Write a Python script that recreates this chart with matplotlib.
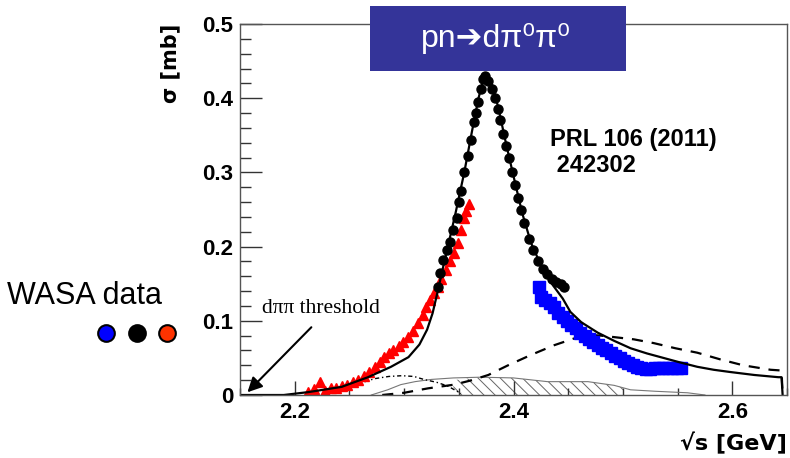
import matplotlib
matplotlib.use("Agg")
import matplotlib.pyplot as plt
from matplotlib.ticker import MultipleLocator, FixedLocator

plt.rcParams['font.family'] = ['Liberation Sans', 'DejaVu Sans']
plt.rcParams['hatch.color'] = '#555555'
plt.rcParams['hatch.linewidth'] = 0.7

# WASA data
black_x = [2.331, 2.333, 2.336, 2.339, 2.342, 2.345, 2.348, 2.350, 2.352, 2.355,
           2.358, 2.361, 2.364, 2.366, 2.368, 2.370, 2.372, 2.374, 2.377, 2.380,
           2.383, 2.386, 2.388, 2.390, 2.393, 2.396, 2.399, 2.401, 2.404, 2.407,
           2.410, 2.414, 2.418, 2.422, 2.427, 2.431, 2.435, 2.439, 2.443, 2.446]
black_y = [0.146, 0.165, 0.182, 0.195, 0.206, 0.222, 0.238, 0.260, 0.275, 0.300,
           0.322, 0.344, 0.368, 0.380, 0.395, 0.412, 0.426, 0.430, 0.423, 0.413,
           0.400, 0.386, 0.370, 0.352, 0.335, 0.320, 0.300, 0.283, 0.266, 0.250,
           0.232, 0.210, 0.195, 0.180, 0.170, 0.163, 0.157, 0.152, 0.149, 0.146]

red_x = [2.212, 2.218, 2.223, 2.228, 2.233, 2.238, 2.243, 2.248, 2.253, 2.258,
         2.263, 2.268, 2.273, 2.278, 2.282, 2.286, 2.290, 2.295, 2.299, 2.304,
         2.308, 2.313, 2.317, 2.320, 2.324, 2.327, 2.331, 2.334, 2.338, 2.342,
         2.346, 2.349, 2.352, 2.355, 2.357, 2.359]
red_y = [0.004, 0.008, 0.018, 0.006, 0.009, 0.010, 0.012, 0.014, 0.017, 0.020,
         0.025, 0.031, 0.038, 0.045, 0.051, 0.056, 0.060, 0.066, 0.071, 0.078,
         0.086, 0.097, 0.108, 0.118, 0.128, 0.137, 0.145, 0.157, 0.168, 0.180,
         0.191, 0.205, 0.222, 0.238, 0.248, 0.258]

blue_x = [2.423, 2.425, 2.429, 2.433, 2.437, 2.441, 2.445, 2.449, 2.453, 2.457,
          2.461, 2.465, 2.469, 2.473, 2.477, 2.481, 2.485, 2.489, 2.493, 2.497,
          2.501, 2.505, 2.509, 2.513, 2.517, 2.521, 2.525, 2.529, 2.533, 2.537,
          2.541, 2.545, 2.549, 2.553]
blue_y = [0.146, 0.132, 0.128, 0.124, 0.118, 0.111, 0.105, 0.100, 0.095, 0.090,
          0.084, 0.079, 0.075, 0.071, 0.067, 0.063, 0.060, 0.056, 0.053, 0.050,
          0.046, 0.043, 0.040, 0.038, 0.036, 0.035, 0.035, 0.036, 0.036, 0.036,
          0.036, 0.036, 0.036, 0.036]

# model curves
fit_x = [2.150, 2.190, 2.213, 2.243, 2.267, 2.288, 2.304, 2.314, 2.321, 2.326,
         2.330, 2.335, 2.340, 2.347, 2.355, 2.362, 2.368, 2.373, 2.376, 2.380,
         2.386, 2.393, 2.400, 2.408, 2.416, 2.425, 2.435, 2.445, 2.452, 2.462,
         2.477, 2.492, 2.507, 2.522, 2.537, 2.552, 2.568, 2.583, 2.598, 2.620,
         2.642, 2.645, 2.646]
fit_y = [0.0, 0.0, 0.004, 0.011, 0.024, 0.038, 0.051, 0.068, 0.088, 0.110,
         0.135, 0.168, 0.200, 0.245, 0.300, 0.355, 0.400, 0.428, 0.432, 0.420,
         0.388, 0.340, 0.295, 0.245, 0.205, 0.175, 0.150, 0.130, 0.112, 0.098,
         0.084, 0.073, 0.063, 0.056, 0.050, 0.044, 0.038, 0.034, 0.031, 0.027,
         0.024, 0.024, 0.0]

dash_x = [2.280, 2.300, 2.322, 2.346, 2.362, 2.377, 2.395, 2.416, 2.437, 2.455,
          2.470, 2.480, 2.492, 2.510, 2.528, 2.548, 2.568, 2.589, 2.610, 2.635,
          2.645, 2.646]
dash_y = [0.000, 0.003, 0.009, 0.014, 0.020, 0.027, 0.040, 0.054, 0.067, 0.076,
          0.081, 0.080, 0.078, 0.075, 0.070, 0.063, 0.057, 0.048, 0.040, 0.034,
          0.033, 0.0]

dashdot_x = [2.225, 2.245, 2.260, 2.273, 2.286, 2.298, 2.309, 2.318, 2.330, 2.340, 2.352]
dashdot_y = [0.000, 0.008, 0.016, 0.022, 0.025, 0.026, 0.025, 0.021, 0.017, 0.012, 0.002]

thin_x = [2.270, 2.285, 2.297, 2.310, 2.325, 2.345, 2.370, 2.400, 2.431, 2.468,
          2.492, 2.507, 2.530, 2.559, 2.575]
thin_y = [0.000, 0.007, 0.014, 0.018, 0.021, 0.023, 0.024, 0.023, 0.018, 0.018,
          0.013, 0.007, 0.005, 0.003, 0.000]

hatch_x = [2.345, 2.370, 2.400, 2.431, 2.468, 2.492, 2.500]
hatch_y = [0.020, 0.024, 0.023, 0.018, 0.018, 0.013, 0.010]

legend_colors = ['#0000ff', '#000000', '#ff3300']

fig = plt.figure(figsize=(7.9, 4.58), dpi=100)
ax = fig.add_axes([240 / 790, 63 / 458, 547 / 790, 371 / 458])

ax.fill_between(hatch_x, 0, hatch_y, facecolor='none', edgecolor='#666666',
                hatch='\\\\\\', linewidth=0)
ax.plot(thin_x, thin_y, color='#777777', lw=0.8)
ax.plot(dashdot_x, dashdot_y, color='black', lw=1.0, ls=(0, (3, 2, 1, 2)))
ax.plot(dash_x, dash_y, color='black', lw=1.6, ls=(0, (5, 4)))

ax.plot(red_x, red_y, ls='none', marker='^', ms=6.5, color='#ff0000', mec='#ff0000')
ax.plot(blue_x, blue_y, ls='none', marker='s', ms=8, color='#0000ff', mec='#0000ff')
ax.plot(black_x, black_y, ls='none', marker='o', ms=6.5, color='black')
ax.plot(fit_x, fit_y, color='black', lw=1.6)

ax.set_xlim(2.15, 2.65)
ax.set_ylim(0, 0.5)
ax.xaxis.set_major_locator(FixedLocator([2.2, 2.4, 2.6]))
ax.xaxis.set_minor_locator(MultipleLocator(0.05))
ax.yaxis.set_major_locator(MultipleLocator(0.1))
ax.yaxis.set_minor_locator(MultipleLocator(0.02))
ax.yaxis.set_major_formatter(plt.FuncFormatter(lambda v, p: '0' if abs(v) < 1e-9 else '%.1f' % v))
ax.tick_params(which='both', direction='in', color='#333333', width=1.0,
               labelsize=16, pad=5)
ax.tick_params(axis='y', which='major', length=16)
ax.tick_params(axis='y', which='minor', length=8)
ax.tick_params(axis='x', which='major', length=10)
ax.tick_params(axis='x', which='minor', length=5)
for lab in ax.get_xticklabels() + ax.get_yticklabels():
    lab.set_fontweight('bold')
for sp in ax.spines.values():
    sp.set_color('#555555')
    sp.set_linewidth(1.0)

ax.text(-0.128, 1.0, 'σ [mb]', transform=ax.transAxes, rotation=90,
        ha='center', va='top', fontsize=15, fontweight='bold',
        family=['DejaVu Sans'])
ax.text(1.0, -0.1, '√s [GeV]', transform=ax.transAxes, ha='right', va='top',
        fontsize=16, fontweight='bold', family=['DejaVu Sans'])

ax.annotate('', xy=(2.155, 0.001), xytext=(2.217, 0.094),
            arrowprops=dict(arrowstyle='-|>', color='black', lw=1.5,
                            mutation_scale=22))
ax.text(2.17, 0.116, 'dππ threshold', fontsize=15.5, family=['Liberation Serif'],
        va='center', ha='left')

ax.text(2.433, 0.36, 'PRL 106 (2011)\n 242302', fontsize=17, fontweight='bold',
        va='top', ha='left', linespacing=1.15)

# title box
fig.patches.append(plt.Rectangle((370 / 790, 1 - 71 / 458), 256 / 790, 65 / 458,
                                 transform=fig.transFigure, facecolor='#343499',
                                 edgecolor='none', zorder=5))
fig.text(496 / 790, 1 - 39 / 458, 'pn➔dπ⁰π⁰', color='white', fontsize=23,
         ha='center', va='center', zorder=6)

# WASA legend
fig.text(7 / 790, 1 - 296 / 458, 'WASA data', fontsize=22, ha='left', va='center')
for i, c in enumerate(legend_colors):
    fig.lines.append(plt.Line2D([(106 + 30.5 * i) / 790], [1 - 333 / 458],
                                transform=fig.transFigure, marker='o', ms=12,
                                color=c, mec='black', mew=1.5, ls='none'))

fig.savefig('out.png', dpi=100)
